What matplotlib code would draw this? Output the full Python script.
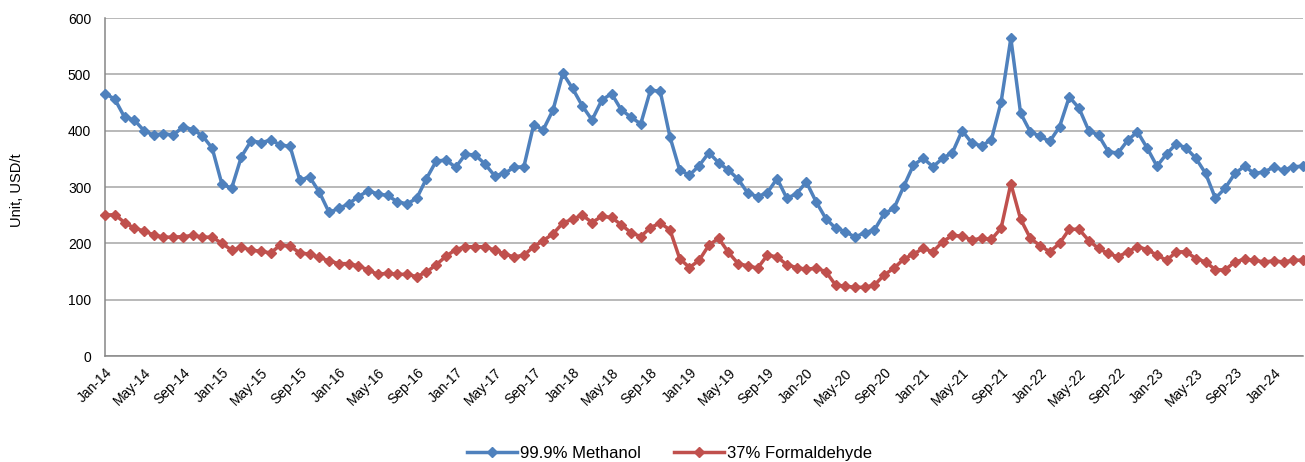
import matplotlib
matplotlib.use("Agg")
import matplotlib.pyplot as plt
import pandas as pd

# Monthly prices, Jan-2014 through Apr-2024 (USD/t)
months = pd.date_range("2014-01-01", "2024-04-01", freq="MS")

methanol = [
    466, 456, 424, 419, 400, 392, 395, 392, 407, 402, 391, 369,
    305, 298, 354, 382, 379, 383, 375, 372, 312, 318, 291, 255,
    262, 270, 283, 293, 288, 285, 274, 270, 280, 315, 346, 348,
    335, 358, 357, 341, 320, 324, 335, 336, 410, 402, 437, 502,
    475, 444, 419, 454, 466, 437, 424, 412, 472, 470, 389, 330,
    321, 338, 361, 343, 330, 314, 289, 283, 290, 315, 280, 288,
    309, 274, 244, 227, 221, 211, 219, 224, 253, 262, 301, 339,
    351, 336, 351, 361, 400, 378, 373, 384, 451, 564, 431, 398,
    390, 381, 407, 460, 440, 400, 392, 363, 360, 383, 398, 369,
    337, 359, 377, 369, 351, 324, 280, 298, 324, 337, 324, 327,
    335, 330, 336, 337,
]

formaldehyde = [
    250, 251, 237, 227, 222, 215, 211, 211, 212, 214, 211, 211,
    200, 188, 193, 188, 186, 183, 197, 195, 183, 181, 175, 169,
    164, 164, 160, 153, 145, 147, 145, 145, 141, 149, 162, 177,
    189, 194, 194, 194, 188, 181, 176, 179, 194, 205, 217, 236,
    243, 250, 237, 248, 246, 233, 219, 212, 228, 236, 224, 173,
    157, 170, 197, 209, 184, 164, 160, 156, 179, 176, 162, 157,
    154, 156, 150, 126, 124, 122, 122, 126, 144, 156, 172, 181,
    191, 185, 203, 214, 213, 206, 209, 207, 227, 306, 243, 209,
    196, 185, 200, 225, 225, 205, 191, 182, 176, 185, 194, 189,
    179, 170, 185, 185, 173, 167, 153, 153, 167, 172, 170, 167,
    169, 167, 170, 170,
]

series_names = ["99.9% Methanol", "37% Formaldehyde"]
series_colors = ["#4F81BD", "#C0504D"]
tick_labels = [m.strftime("%b-%y") for m in months]

plt.rcParams["font.family"] = ["Liberation Sans", "DejaVu Sans"]

fig = plt.figure(figsize=(13.05, 4.62), dpi=100)
ax = fig.add_axes([0.0805, 0.2294, 0.918, 0.7316])

x = list(range(len(months)))
for values, name, color in zip([methanol, formaldehyde], series_names, series_colors):
    ax.plot(x, values, color=color, lw=2.5, marker="D", markersize=5.5,
            markeredgecolor=color, markerfacecolor=color, label=name,
            clip_on=False, zorder=3)

ax.set_xlim(0, len(months) - 1)
ax.set_ylim(0, 600)
ax.set_yticks(range(0, 601, 100))
ax.grid(axis="y", color="#A6A6A6", lw=1.1)
ax.set_axisbelow(True)

ax.set_xticks(x[::4])
ax.set_xticklabels(tick_labels[::4], rotation=45, ha="right",
                   rotation_mode="anchor", fontsize=10)
ax.tick_params(axis="x", length=0, pad=7)
ax.tick_params(axis="y", length=0, pad=10, labelsize=10)

for side in ["top", "right"]:
    ax.spines[side].set_visible(False)
for side in ["left", "bottom"]:
    ax.spines[side].set_color("#868686")
    ax.spines[side].set_linewidth(1.1)

ax.set_ylabel("Unit, USD/t", fontsize=10.5)
ax.yaxis.set_label_coords(-0.068, 0.49)

fig.legend(loc="lower center", ncol=2, frameon=False, fontsize=12,
           bbox_to_anchor=(0.513, -0.03), handlelength=3.0,
           columnspacing=2.0, handletextpad=0.2)

fig.savefig("out.png", dpi=100, facecolor="white")
